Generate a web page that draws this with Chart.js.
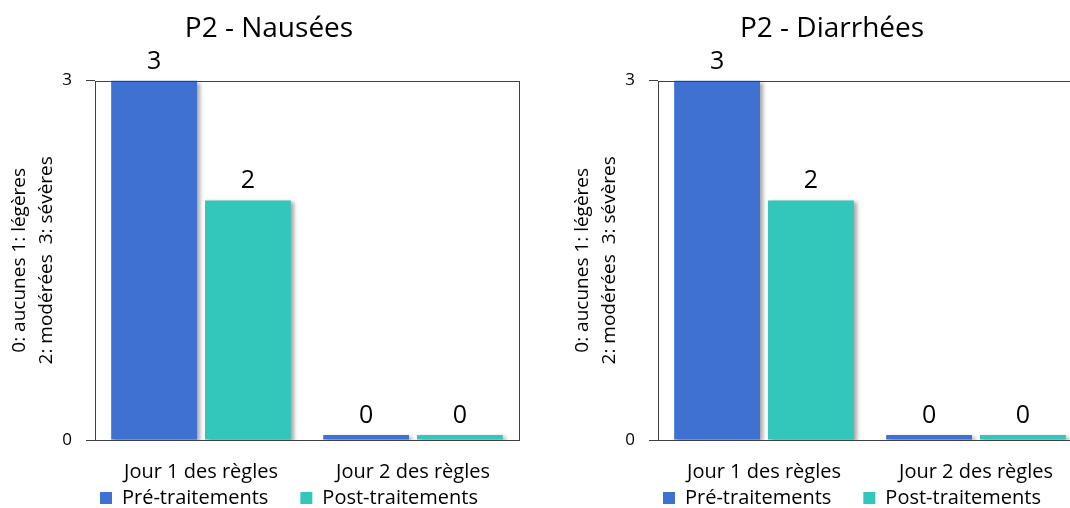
<!DOCTYPE html>
<html>
<head>
<meta charset="utf-8">
<script src="https://cdn.jsdelivr.net/npm/chart.js@4.4.1/dist/chart.umd.min.js"></script>
<style>
  html, body { margin: 0; padding: 0; background: #fff; }
  #wrap { position: relative; width: 1070px; height: 508px; overflow: hidden; }
  .panel { position: absolute; top: 0; width: 538px; height: 508px; }
</style>
</head>
<body>
<div id="wrap">
  <div class="panel" style="left:0"><canvas id="chartNausees" width="538" height="508"></canvas></div>
  <div class="panel" style="left:563px"><canvas id="chartDiarrhees" width="538" height="508"></canvas></div>
</div>

<script>
// données des deux graphiques
const categories = ['Jour 1 des règles', 'Jour 2 des règles'];
const seriesNames = ['Pré-traitements', 'Post-traitements'];
const nauseesPre = [3, 0];
const nauseesPost = [2, 0];
const diarrheesPre = [3, 0];
const diarrheesPost = [2, 0];
const yTicks = [0, 3];
const yTitle = ['0: aucunes 1: légères', '2: modérées  3: sévères'];

const BLUE = '#3E71D1';
const TEAL = '#33C6BA';
const FONT = "'Open Sans', sans-serif";

// ombre des barres, valeurs au-dessus, cadre du graphique
const barDecor = {
  id: 'barDecor',
  afterLayout(chart) {
    // légende remontée sous les étiquettes de l'axe x, un peu à droite
    const lg = chart.legend;
    lg.left += 20;
    lg.right += 20;
    lg.top -= 48;
    lg.bottom -= 48;
  },
  beforeDatasetsDraw(chart) {
    const ctx = chart.ctx;
    ctx.save();
    ctx.shadowColor = 'rgba(0,0,0,0.35)';
    ctx.shadowOffsetX = 3;
    ctx.shadowOffsetY = 2;
    ctx.shadowBlur = 4;
  },
  afterDatasetsDraw(chart) {
    const ctx = chart.ctx;
    ctx.restore();

    ctx.save();
    ctx.font = '25px ' + FONT;
    ctx.fillStyle = '#000';
    ctx.textAlign = 'center';
    ctx.textBaseline = 'alphabetic';
    chart.data.datasets.forEach((ds, i) => {
      chart.getDatasetMeta(i).data.forEach((bar, j) => {
        ctx.fillText(String(ds.data[j]), bar.x, bar.y - 12);
      });
    });

    const a = chart.chartArea;
    ctx.strokeStyle = '#404040';
    ctx.lineWidth = 1;
    ctx.strokeRect(Math.round(a.left) + 0.5, Math.round(a.top) + 0.5,
                   Math.round(a.right - a.left), Math.round(a.bottom - a.top));
    ctx.restore();
  }
};

function makeChart(canvasId, title, pre, post) {
  const ctx = document.getElementById(canvasId);
  return new Chart(ctx, {
    type: 'bar',
    data: {
      labels: categories,
      datasets: [
        { label: seriesNames[0], data: pre, backgroundColor: BLUE },
        { label: seriesNames[1], data: post, backgroundColor: TEAL }
      ]
    },
    options: {
      responsive: false,
      animation: false,
      devicePixelRatio: 1,
      categoryPercentage: 0.885,
      barPercentage: 0.915,
      minBarLength: 5,
      layout: { padding: { left: 0, right: 0, top: 0, bottom: -58 } },
      plugins: {
        title: {
          display: true,
          text: title,
          color: '#000',
          font: { family: FONT, size: 28, weight: 'normal', lineHeight: 1.2 },
          padding: { top: 12, bottom: 35 }
        },
        legend: {
          position: 'bottom',
          labels: {
            color: '#000',
            font: { family: FONT, size: 20 },
            boxWidth: 12,
            boxHeight: 12,
            padding: 32
          }
        },
        tooltip: { enabled: false }
      },
      scales: {
        x: {
          grid: { display: false, drawTicks: false },
          border: { display: false },
          ticks: {
            color: '#000',
            font: { family: FONT, size: 20 },
            padding: 20
          }
        },
        y: {
          min: 0,
          max: 3,
          afterBuildTicks(scale) {
            scale.ticks = yTicks.map(v => ({ value: v }));
          },
          afterFit(scale) {
            scale.width = 95;
          },
          grid: { drawOnChartArea: false, drawTicks: true, tickLength: 9, color: '#404040' },
          border: { display: false },
          ticks: {
            color: '#000',
            font: { family: FONT, size: 17 },
            padding: 14
          },
          title: {
            display: true,
            text: yTitle,
            color: '#000',
            font: { family: FONT, size: 19, lineHeight: 1.42 },
            padding: { top: 6, bottom: 0 }
          }
        },
        pad: {
          position: 'right',
          display: true,
          afterFit(scale) {
            scale.width = 19;
          },
          grid: { display: false },
          border: { display: false },
          ticks: { display: false }
        }
      }
    },
    plugins: [barDecor]
  });
}

makeChart('chartNausees', 'P2 - Nausées', nauseesPre, nauseesPost);
makeChart('chartDiarrhees', 'P2 - Diarrhées', diarrheesPre, diarrheesPost);
</script>
</body>
</html>
